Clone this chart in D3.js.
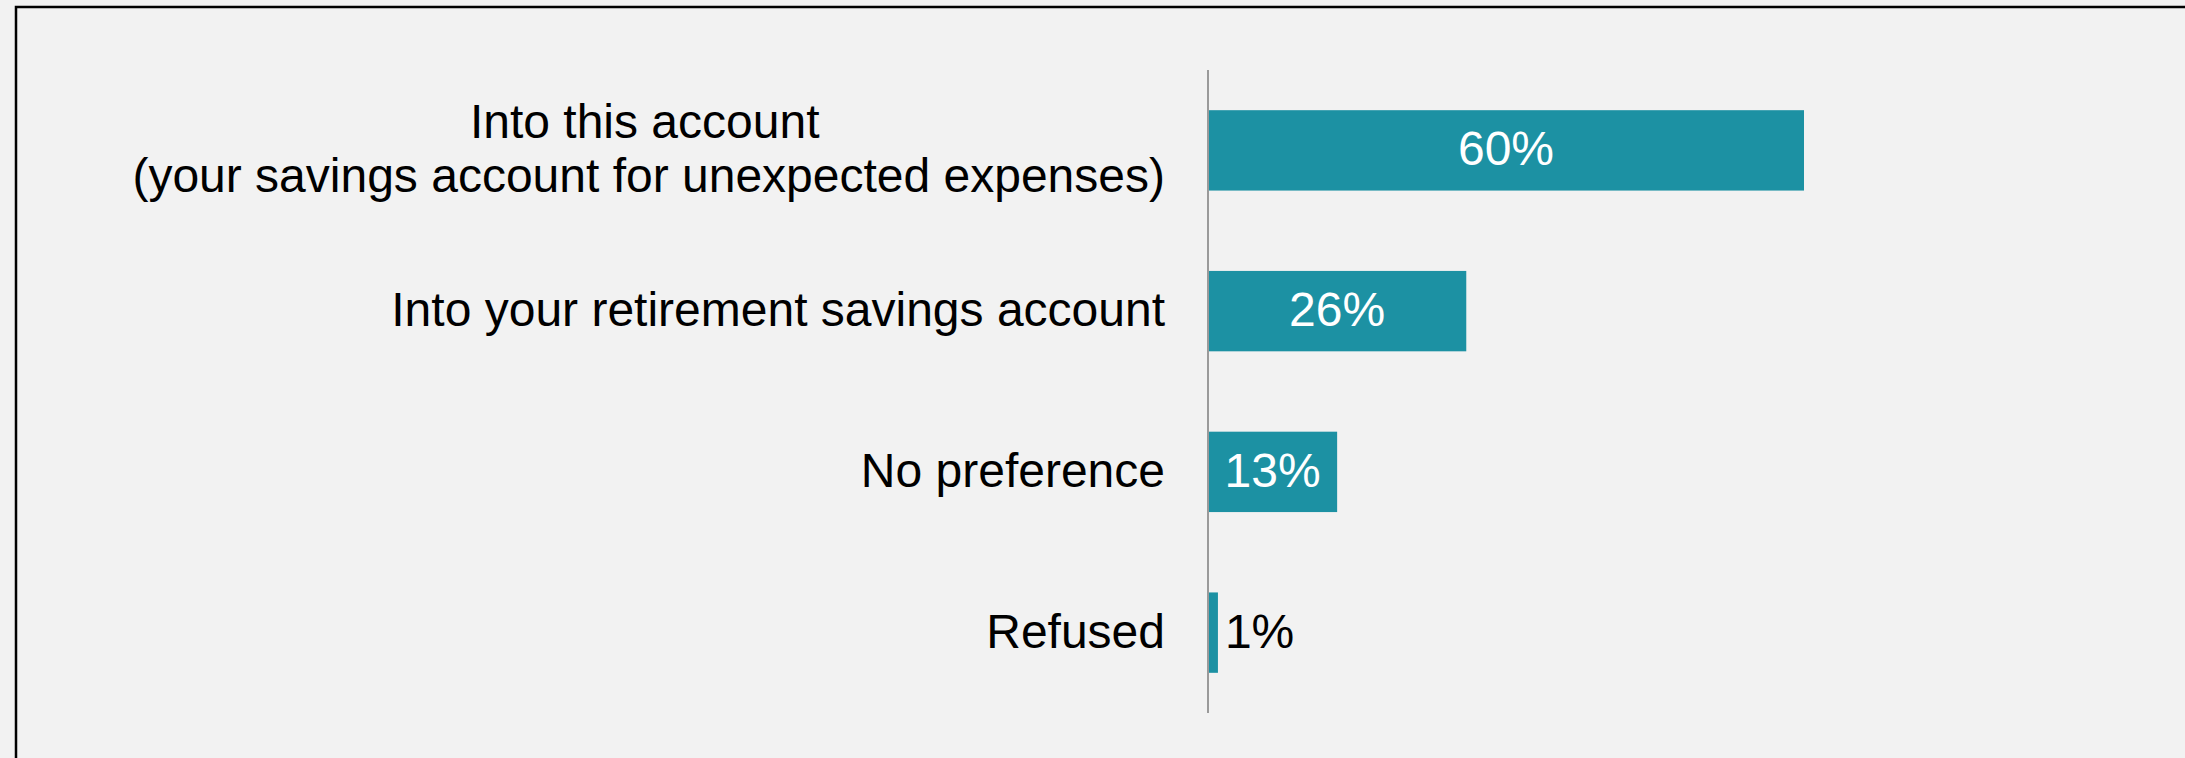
<!DOCTYPE html>
<html>
<head>
<meta charset="utf-8">
<script src="https://cdn.jsdelivr.net/npm/d3@7/dist/d3.min.js"></script>
<style>
  html, body { margin: 0; padding: 0; background: #F2F2F2; }
  svg { display: block; }
  text { font-family: "Liberation Sans", Arial, sans-serif; }
</style>
</head>
<body>
<svg id="chart" width="2185" height="758"></svg>
<script>
const categories = [
  ["Into this account", "(your savings account for unexpected expenses)"],
  ["Into your retirement savings account"],
  ["No preference"],
  ["Refused"]
];
const values = [60, 26, 13, 1];
const valueLabels = ["60%", "26%", "13%", "1%"];

const W = 2185, H = 758;
const svg = d3.select("#chart");
const fontSize = 48;

svg.append("rect").attr("x", 0).attr("y", 0).attr("width", W).attr("height", H).attr("fill", "#F2F2F2");

// frame (extends past right/bottom edges)
svg.append("rect")
  .attr("x", 16).attr("y", 7)
  .attr("width", W + 50).attr("height", H + 50)
  .attr("fill", "none").attr("stroke", "#000").attr("stroke-width", 2.5);

const x0 = 1208;
const x = d3.scaleLinear().domain([0, 60]).range([x0, 1804]);
const y = d3.scaleBand().domain(d3.range(categories.length)).range([70, 713])
  .paddingInner(0.5).paddingOuter(0.25);

// bars
svg.append("g").selectAll("rect").data(values).join("rect")
  .attr("x", x(0))
  .attr("y", (d, i) => y(i))
  .attr("width", d => x(d) - x(0))
  .attr("height", y.bandwidth())
  .attr("fill", "#1C91A3");

// axis line
const axis = d3.axisLeft(y).tickSize(0).tickFormat("");
const ag = svg.append("g").attr("transform", `translate(${x0},0)`).call(axis);
ag.select(".domain").attr("stroke", "#9A9A9A").attr("stroke-width", 2).attr("d", "M0,70V713");

// category labels
const labelRight = 1165;
const lineH = 54;
categories.forEach((lines, i) => {
  const cy = y(i) + y.bandwidth() / 2;
  const n = lines.length;
  const g = svg.append("g");
  if (n === 1) {
    g.append("text").attr("x", labelRight).attr("y", cy + 15)
      .attr("text-anchor", "end").attr("font-size", fontSize).attr("fill", "#000")
      .text(lines[0]);
  } else {
    // right-aligned block, lines centered on each other
    const tmp = g.append("text").attr("font-size", fontSize).text(lines[1]);
    const wLong = tmp.node().getComputedTextLength();
    tmp.remove();
    const cx = labelRight - wLong / 2;
    lines.forEach((ln, k) => {
      g.append("text").attr("x", cx - (k === 0 ? 4 : 0))
        .attr("y", cy + 15 + (k - (n - 1) / 2) * lineH)
        .attr("text-anchor", "middle").attr("font-size", fontSize).attr("fill", "#000")
        .text(ln);
    });
  }
});

// value labels
svg.append("g").selectAll("text").data(values).join("text")
  .attr("x", (d, i) => d >= 5 ? (x(0) + x(d)) / 2 : x(d) + 7)
  .attr("y", (d, i) => y(i) + y.bandwidth() / 2 + 15)
  .attr("text-anchor", d => d >= 5 ? "middle" : "start")
  .attr("font-size", fontSize)
  .attr("fill", d => d >= 5 ? "#FFFFFF" : "#000000")
  .text((d, i) => valueLabels[i]);
</script>
</body>
</html>
